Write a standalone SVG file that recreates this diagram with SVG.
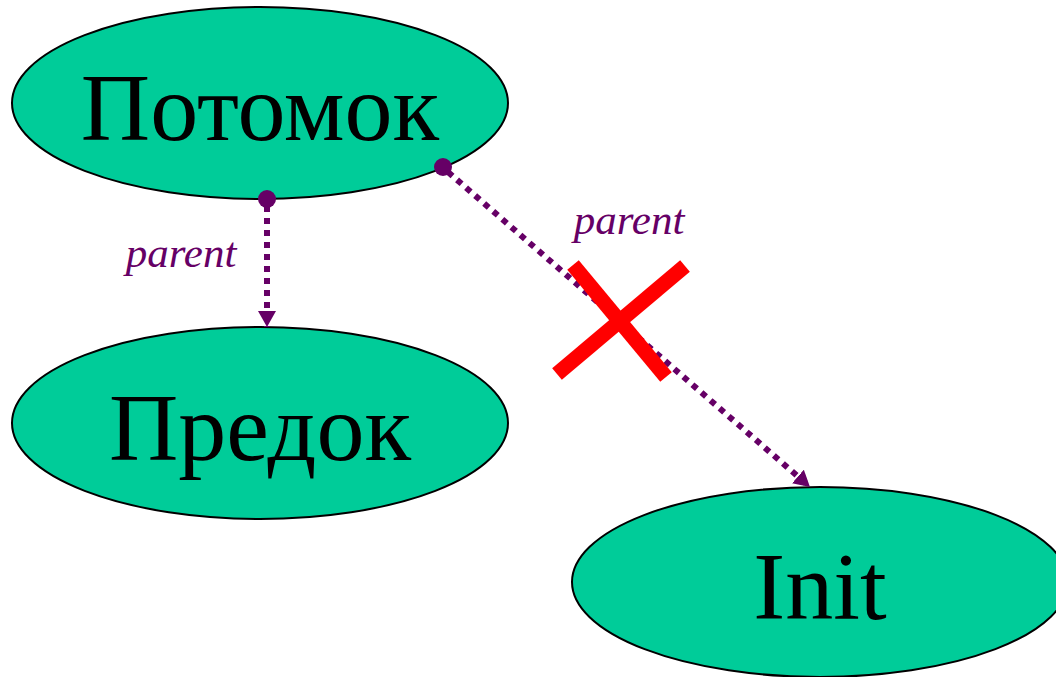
<svg xmlns="http://www.w3.org/2000/svg" width="1056" height="677" viewBox="0 0 1056 677">
<style>
.node{fill:#00CC99;stroke:#000;stroke-width:2}
.lbl{font-family:"Liberation Serif",serif;font-size:96px;fill:#000;text-anchor:middle}
.edge{stroke:#660066;stroke-width:6;stroke-dasharray:6 6;fill:none}
.el{font-family:"Liberation Serif",serif;font-style:italic;font-size:43px;fill:#660066;text-anchor:middle}
.dot{fill:#660066}
.cross{stroke:#FF0000;stroke-width:15;stroke-linecap:butt}
</style>
<defs>
<marker id="ah" viewBox="0 0 16 18" refX="16" refY="9" markerWidth="16" markerHeight="18" orient="auto" markerUnits="userSpaceOnUse">
<path d="M0,0 L16,9 L0,18 Z" fill="#660066"/>
</marker>
</defs>
<g id="node-potomok">
<ellipse class="node" cx="260" cy="103" rx="248" ry="96"/>
<text class="lbl" x="260" y="140">Потомок</text>
</g>
<g id="node-predok">
<ellipse class="node" cx="260" cy="423" rx="248" ry="96"/>
<text class="lbl" x="260" y="460">Предок</text>
</g>
<g id="node-init">
<ellipse class="node" cx="820" cy="582" rx="248" ry="95"/>
<text class="lbl" x="820" y="619">Init</text>
</g>
<g id="connectors">
<line class="edge" x1="267" y1="206" x2="267" y2="327" marker-end="url(#ah)"/>
<circle class="dot" cx="267" cy="199" r="9"/>
<text class="el" x="181" y="267">parent</text>
<line class="edge" x1="448" y1="172" x2="810" y2="487" marker-end="url(#ah)"/>
<circle class="dot" cx="443" cy="167" r="9"/>
<text class="el" x="629" y="234">parent</text>
<line class="cross" x1="573" y1="265" x2="666" y2="377"/>
<line class="cross" x1="685" y1="266" x2="557" y2="374"/>
</g>
</svg>
